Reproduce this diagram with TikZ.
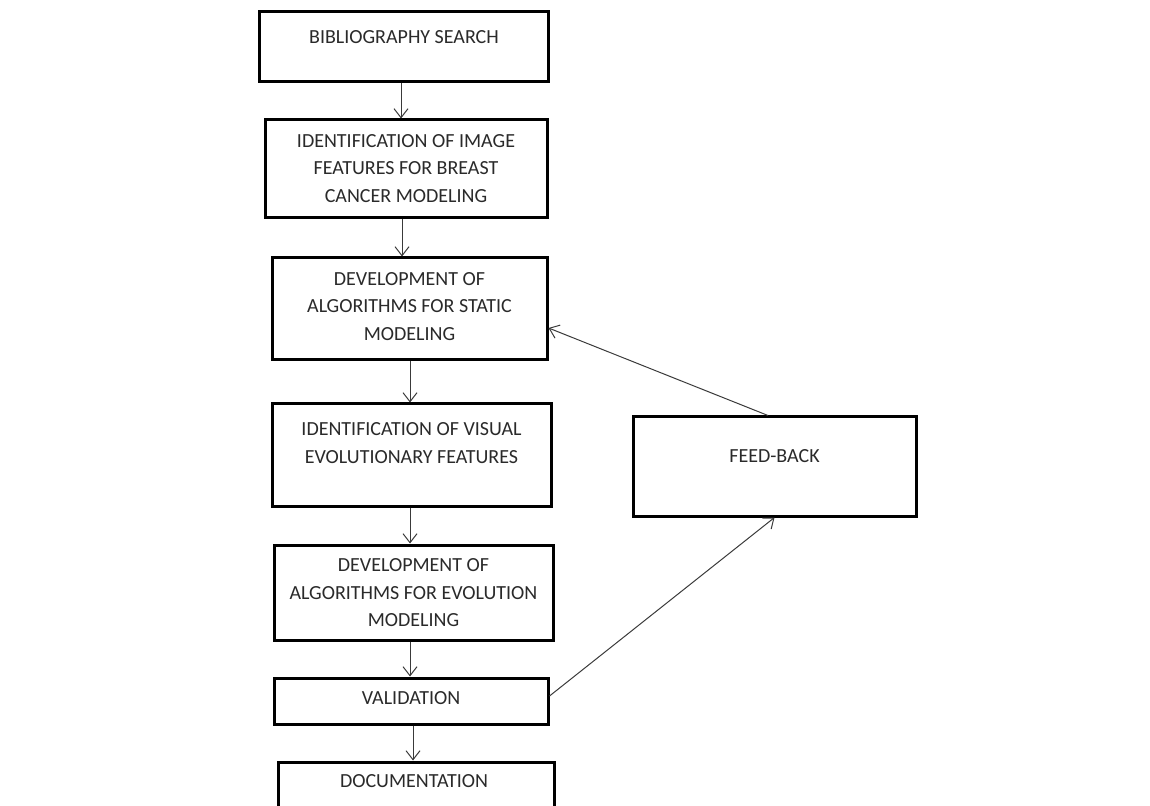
\documentclass[tikz,border=0pt]{standalone}
\usepackage{fontspec}
\setmainfont{Carlito}
\usetikzlibrary{arrows.meta}
\definecolor{txtc}{HTML}{2A2A2A}
\definecolor{arrc}{HTML}{3A3A3A}
\tikzset{
  box/.style={draw=black, line width=1.5pt, rectangle, inner sep=0pt, fill=white},
  lbl/.style={inner sep=0pt, align=center, text=txtc, font=\fontsize{10}{13.75}\selectfont},
  arr/.style={draw=arrc, line width=0.5pt, -{Straight Barb[length=4.5pt, width=7pt, line width=0.5pt]}}
}
\begin{document}
\begin{tikzpicture}[x=0.5pt, y=-0.5pt]
\useasboundingbox (0,0) rectangle (1150,806);
% boxes
\node[box, minimum width=144.5pt, minimum height=35pt]  (b1) at (403.5,47) {};
\node[box, minimum width=141pt,   minimum height=49pt]  (b2) at (406,169) {};
\node[box, minimum width=137.5pt, minimum height=51pt]  (b3) at (409.5,309) {};
\node[box, minimum width=139.5pt, minimum height=51pt]  (b4) at (411.5,455) {};
\node[box, minimum width=139.5pt, minimum height=47.5pt] (b5) at (413.5,592.5) {};
\node[box, minimum width=137pt,   minimum height=23pt]  (b6) at (411,701) {};
\node[box, minimum width=138pt,   minimum height=30pt]  (b7) at (416,792) {};
\node[box, minimum width=141.5pt, minimum height=49.5pt] (fb) at (774.5,466.5) {};
% labels
\node[lbl] (t1) at (404,37) {BIBLIOGRAPHY SEARCH};
\node[lbl] (t2) at (406,168.5) {IDENTIFICATION OF IMAGE\\FEATURES FOR BREAST\\CANCER MODELING};
\node[lbl] (t3) at (409.5,306.5) {DEVELOPMENT OF\\ALGORITHMS FOR STATIC\\MODELING};
\node[lbl] (t4) at (411.5,443) {IDENTIFICATION OF VISUAL\\EVOLUTIONARY FEATURES};
\node[lbl] (t5) at (413.5,593) {DEVELOPMENT OF\\ALGORITHMS FOR EVOLUTION\\MODELING};
\node[lbl] (t6) at (411,698) {VALIDATION};
\node[lbl] (t7) at (414,781) {DOCUMENTATION};
\node[lbl] (t8) at (774.5,456) {FEED-BACK};
% connectors
\draw[arr] (b1.south -| 401,0) -- (b2.north -| 401,0);
\draw[arr] (b2.south -| 402,0) -- (b3.north -| 402,0);
\draw[arr] (b3.south -| 410,0) -- (b4.north -| 410,0);
\draw[arr] (b4.south -| 410,0) -- (b5.north -| 410,0);
\draw[arr] (b5.south -| 410,0) -- (b6.north -| 410,0);
\draw[arr] (b6.south -| 413,0) -- (b7.north -| 413,0);
\draw[arr] (fb.north -| 768,0) -- (b3.east |- 0,328);
\draw[arr] (b6.east |- 0,696) -- (fb.south);
\end{tikzpicture}
\end{document}
